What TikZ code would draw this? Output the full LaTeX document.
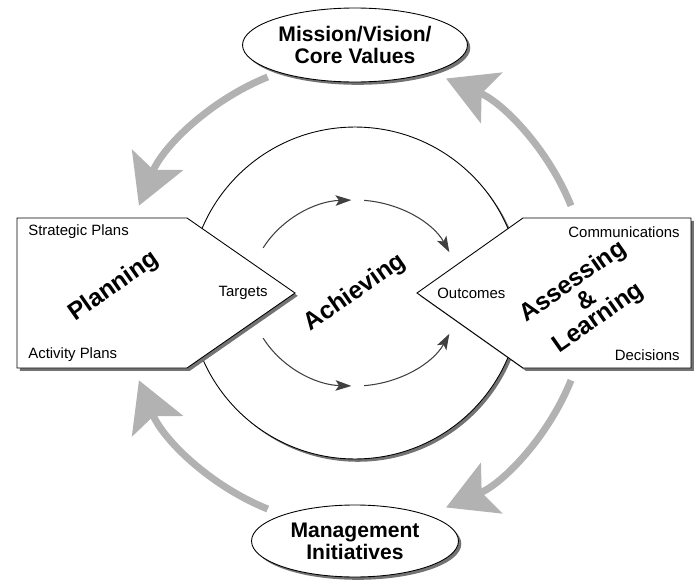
\documentclass[tikz,border=0pt]{standalone}
\usepackage{fontspec}
\setmainfont{Liberation Sans}
\usepackage{tikz}
\usetikzlibrary{arrows,arrows.meta,positioning,shapes.geometric,shadows}

\begin{document}
\begin{tikzpicture}[x=0.02cm,y=0.02cm,
	boxshadow/.style={drop shadow={shadow xshift=1.6pt,shadow yshift=-1.6pt,fill=black!55,opacity=1}},
	panel/.style={draw=black,line width=0.5pt,fill=white,boxshadow},
	ovalnode/.style={ellipse,panel,inner sep=0pt,align=center,font=\fontsize{12}{12.5}\selectfont\bfseries},
	smalltext/.style={inner sep=0pt,font=\fontsize{8.5}{10}\selectfont},
	bigtext/.style={inner sep=0pt,rotate=35,align=center,font=\fontsize{14}{11.5}\selectfont\bfseries},
	cyclearrow/.style={draw=black!30,line width=4pt,-{Stealth[length=28pt,width=31pt,inset=6pt]}},
	flowarrow/.style={draw=black!75,line width=0.6pt,-{Stealth[length=9pt,width=6pt,inset=2pt]}}]

\useasboundingbox (-355,-286) rectangle (339,293);

\foreach \s/\e [count=\k] in {112/158, 22/67, -112/-158, -22/-67} {
	\coordinate (g\k) at (\s:233);
	\draw[cyclearrow] (g\k) arc[start angle=\s, end angle=\e, radius=233];
}

\node[circle,panel,minimum size=6.64cm] (ring) at (0,0) {};

\foreach \s/\e [count=\k] in {151/92, 85/26, -151/-92, -85/-26} {
	\coordinate (f\k) at (\s:105 and 93);
	\draw[flowarrow] (f\k) arc[start angle=\s, end angle=\e, x radius=105, y radius=93];
}

\draw[panel] (-338,75) -- (-168,75) -- (-60,0) -- (-168,-75) -- (-338,-75) -- cycle;
\draw[panel] (336,75) -- (168,75) -- (62,0) -- (168,-75) -- (336,-75) -- cycle;

\node[smalltext,anchor=west] (strategic) at (-327,61) {Strategic Plans};
\node[smalltext,anchor=west] (activity) at (-327,-62) {Activity Plans};
\node[smalltext,anchor=east] (targets) at (-87,0) {Targets};
\node[smalltext,anchor=west] (outcomes) at (82,0) {Outcomes};
\node[smalltext,anchor=east] (comms) at (325,61) {Communications};
\node[smalltext,anchor=east] (decisions) at (325,-62) {Decisions};

\node[bigtext] (planning) at (-241,6) {Planning};
\node[bigtext] (achieving) at (0,0) {Achieving};
\node[bigtext] (assessing) at (231,-7) {Assessing\\\&\\Learning};

\node[ovalnode,minimum width=4.5cm,minimum height=1.48cm] (mission) at (0,248) {Mission/Vision/\\Core Values};
\node[ovalnode,minimum width=4.14cm,minimum height=1.44cm] (management) at (0,-248) {Management\\Initiatives};

\end{tikzpicture}
\end{document}
